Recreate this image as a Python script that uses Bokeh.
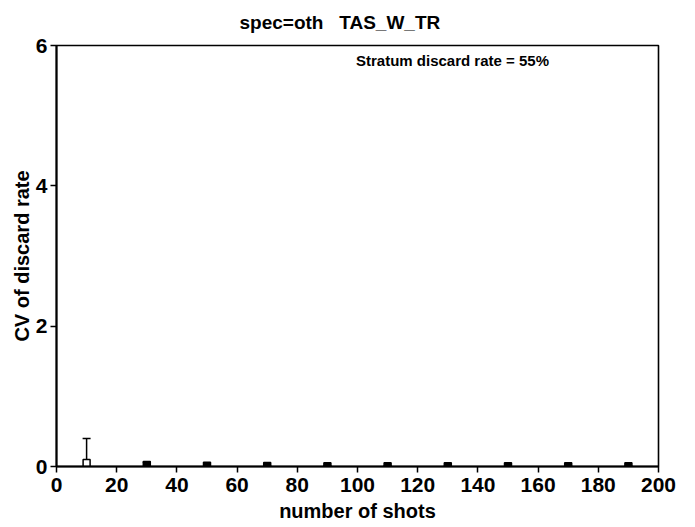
from bokeh.plotting import figure
from bokeh.models import Range1d, Label, ColumnDataSource, FixedTicker
from bokeh.embed import file_html
from bokeh.resources import INLINE

shots = [10, 30, 50, 70, 90, 110, 130, 150, 170, 190]
cv_mean = [0.05, 0.02, 0.012, 0.006, 0.005, 0.005, 0.004, 0.004, 0.004, 0.004]
cv_upper = [0.40, 0.06, 0.035, 0.012, 0.01, 0.009, 0.008, 0.008, 0.007, 0.007]
cv_lower = [0.0, 0.0, 0.0, 0.0, 0.0, 0.0, 0.0, 0.0, 0.0, 0.0]
x_ticks = [0, 20, 40, 60, 80, 100, 120, 140, 160, 180, 200]
y_ticks = [0, 2, 4, 6]
title_text = "spec=oth\u00a0\u00a0\u00a0TAS_W_TR"
note_text = "Stratum discard rate = 55%"

FONT = "Liberation Sans"

p = figure(width=695, height=527, output_backend="svg", toolbar_location=None,
           x_range=Range1d(0, 200), y_range=Range1d(0, 6),
           min_border_left=56, min_border_right=37, min_border_top=45, min_border_bottom=61)

p.title.text = title_text
p.title.align = "left"
p.title.offset = 183
p.title.standoff = 21
p.title.vertical_align = "top"
p.title.text_font = FONT
p.title.text_font_style = "bold"
p.title.text_font_size = "19px"
p.title.text_color = "black"

p.grid.visible = False
p.outline_line_color = "black"
p.outline_line_width = 1.6
p.background_fill_color = "white"
p.border_fill_color = "white"

p.xaxis.ticker = FixedTicker(ticks=x_ticks)
p.yaxis.ticker = FixedTicker(ticks=y_ticks)
for ax in (p.xaxis[0], p.yaxis[0]):
    ax.axis_line_width = 2
    ax.axis_line_color = "black"
    ax.major_tick_line_width = 1.5
    ax.major_tick_out = 6
    ax.major_tick_in = 0
    ax.minor_tick_out = 0
    ax.minor_tick_in = 0
    ax.major_label_text_font = FONT
    ax.major_label_text_font_style = "bold"
    ax.major_label_text_font_size = "21px"
    ax.major_label_text_color = "black"
    ax.axis_label_text_font = FONT
    ax.axis_label_text_font_style = "bold"
    ax.axis_label_text_font_size = "20px"
    ax.axis_label_text_color = "black"
p.xaxis.axis_label = "number of shots"
p.yaxis.axis_label = "CV of discard rate"
p.xaxis.major_label_standoff = 5
p.xaxis.axis_label_standoff = 5
p.yaxis.major_label_standoff = 3
p.yaxis.axis_label_standoff = 0

fills = ["white" if (u - m) > 0.1 else "black" for u, m in zip(cv_upper, cv_mean)]
src = ColumnDataSource(dict(x=shots, m=cv_mean, up=cv_upper, lo=cv_lower, fill=fills))
p.segment(x0="x", y0="lo", x1="x", y1="up", source=src, line_color="black", line_width=1.5)
p.dash(x="x", y="up", source=src, size=8, line_color="black", line_width=1.5)
p.scatter(x="x", y="m", source=src, marker="square", size=7,
          fill_color="fill", line_color="black", line_width=1.5)

p.add_layout(Label(x=99.5, y=5.79, text=note_text, text_font=FONT, text_font_style="bold",
                   text_font_size="15px", text_baseline="middle", text_color="black"))

open("out.html", "w").write(file_html(p, INLINE))
